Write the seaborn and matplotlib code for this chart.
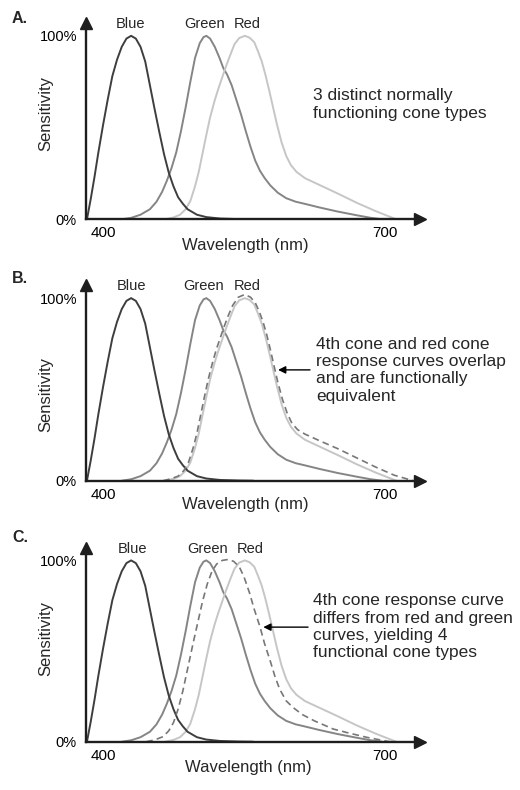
import numpy as np
import pandas as pd
import matplotlib
matplotlib.use('Agg')
import matplotlib.pyplot as plt
import seaborn as sns

# cone sensitivity curves (wavelength nm, % of peak)
blue_wl = [383, 387, 391, 395, 400, 405, 410, 415, 420, 425, 430, 435, 440, 445, 450,
           455, 460, 465, 470, 475, 480, 485, 490, 500, 510, 525, 545, 560]
blue_sens = [0, 11, 23, 36, 51, 65, 78, 87, 94, 98.5, 100, 98.5, 94, 86, 73,
             60, 47.5, 35.5, 25.5, 18, 12, 8.5, 5.5, 2.5, 1.2, 0.4, 0.1, 0]

green_wl = [420, 430, 440, 450, 457, 463, 468, 473, 478, 483, 488, 493, 498, 503, 507,
            510, 514, 519, 524, 528, 532, 537, 542, 547, 552, 557, 562, 567, 572, 578,
            586, 595, 605, 615, 630, 650, 670, 685, 697]
green_sens = [0, 0.8, 2.5, 5.5, 9.6, 15, 21, 28, 36.5, 48, 61, 75, 88, 96, 99.3,
              100, 98.5, 94, 88, 82.5, 79, 73, 65, 57, 48, 39.5, 32, 26.5, 22.5, 18.5,
              14.5, 11.5, 9.6, 8.4, 6.5, 4.2, 2.2, 0.8, 0]

red_wl = [466, 475, 482, 488, 493, 498, 502, 506, 510, 514, 519, 523, 527, 531, 535,
          540, 545, 551, 556, 561, 565, 569, 573, 577, 581, 585, 590, 595, 600, 606,
          615, 630, 650, 670, 690, 712]
red_sens = [0, 1, 2.5, 5.5, 10, 18, 26, 36, 46, 55.5, 65, 71.5, 77.5, 83.5, 89,
            95.5, 98.8, 100, 99, 96.5, 91.5, 86, 78.5, 70, 61, 52, 42, 34.5, 29.5, 25.8,
            22.4, 18.8, 14, 9, 4.5, 0]

# 4th cone, panel B (overlaps red)
cone4_b_wl = [464, 472, 480, 486, 491, 496, 500, 504, 508, 512, 517, 521, 525, 529, 533,
              538, 544, 551, 557, 562, 566, 570, 574, 578, 582, 586, 591, 596, 601, 607,
              615, 630, 650, 670, 690, 710, 730]
cone4_b_sens = [0, 1, 2.5, 5.5, 10, 18, 26, 36, 46, 55.5, 65.5, 72.5, 78.5, 84.5, 90,
                96, 100.5, 102, 100.5, 97.5, 93, 87.5, 80.5, 72, 63, 54, 44.5, 37, 31.5, 28,
                25.5, 22, 17.5, 12.5, 7.5, 3, 0]

# 4th cone, panel C (between green and red)
cone4_c_wl = [446, 455, 464, 470, 475, 480, 485, 490, 496, 501, 506, 511, 516, 521, 527,
              533, 539, 545, 550, 556, 561, 567, 572, 578, 583, 588, 595, 602, 612, 625,
              645, 660, 680, 705]
cone4_c_sens = [0, 1, 2.8, 6, 10.5, 18, 28, 40, 54.5, 66, 77.5, 87, 94, 98, 100,
                100.5, 99.5, 96.5, 91, 82, 73, 63.5, 54, 44.5, 36, 29, 22.5, 19, 15, 11.5,
                7, 5, 2.5, 0]

curve_names = ['Blue', 'Green', 'Red']
x_tick_labels = ['400', '700']
y_tick_labels = ['0%', '100%']
panel_letters = ['A.', 'B.', 'C.']
notes = ['3 distinct normally\nfunctioning cone types',
         '4th cone and red cone\nresponse curves overlap\nand are functionally\nequivalent',
         '4th cone response curve\ndiffers from red and green\ncurves, yielding 4\nfunctional cone types']

sns.set_theme(style='white')
plt.rcParams['font.family'] = ['Liberation Sans', 'DejaVu Sans']

fig = plt.figure(figsize=(5.2, 7.9), dpi=100)

boxes = [[0.1654, 0.7224, 0.6423, 0.2485],
         [0.1654, 0.3915, 0.6423, 0.2473],
         [0.1654, 0.0611, 0.6423, 0.2456]]
letter_y = [1 - 18.5 / 790, 1 - 278.5 / 790, 1 - 537.5 / 790]
name_x = [[429, 508, 554], [430, 507, 553.5], [431.5, 511, 556.5]]
ylabel_y = [0.54, 0.44, 0.533]
xlabel_pos = [(0.478, -0.131), (0.478, -0.124), (0.486, -0.132)]
note_xy = [(623.5, 62.5), (626.7, 60.5), (623.5, 63.4)]
arrows = [None, ((620.3, 60.7), (586.3, 60.7)), ((618.2, 63.2), (570.6, 63.2))]

axis_color = '#1e1e1e'

for i in range(3):
    ax = fig.add_axes(boxes[i])

    sns.lineplot(x=green_wl, y=green_sens, ax=ax, color='#858585', lw=1.4)
    sns.lineplot(x=red_wl, y=red_sens, ax=ax, color='#c6c6c6', lw=1.4)
    sns.lineplot(x=blue_wl, y=blue_sens, ax=ax, color='#3e3e3e', lw=1.4)
    if i == 1:
        sns.lineplot(x=cone4_b_wl, y=cone4_b_sens, ax=ax, color='#777777', lw=1.2,
                     linestyle=(0, (4, 2.5)))
    if i == 2:
        sns.lineplot(x=cone4_c_wl, y=cone4_c_sens, ax=ax, color='#777777', lw=1.2,
                     linestyle=(0, (4, 2.5)))

    ax.set_xlim(382, 737.3)
    ax.set_ylim(0, 107)

    for side in ['top', 'right']:
        ax.spines[side].set_visible(False)
    for side in ['left', 'bottom']:
        ax.spines[side].set_color(axis_color)
        ax.spines[side].set_linewidth(1.7)

    # arrow heads on the axes
    ax.plot(1, 0, '>', color=axis_color, ms=8, transform=ax.transAxes, clip_on=False)
    ax.plot(0, 1, '^', color=axis_color, ms=8, transform=ax.transAxes, clip_on=False)

    ax.set_xticks([400, 700], x_tick_labels)
    ax.set_yticks([0, 100], y_tick_labels)
    ax.tick_params(axis='x', length=0, labelsize=11, pad=5, colors='black')
    ax.tick_params(axis='y', length=0, labelsize=10.5, pad=6.5, colors='black')

    ax.set_xlabel('Wavelength (nm)', fontsize=12, va='center')
    ax.xaxis.set_label_coords(*xlabel_pos[i])
    ax.set_ylabel('Sensitivity', fontsize=12, va='center')
    ax.yaxis.set_label_coords(-0.12, ylabel_y[i])

    for name, nx in zip(curve_names, name_x[i]):
        ax.text(nx, 106.5, name, ha='center', va='center', fontsize=10.5)

    ax.text(note_xy[i][0], note_xy[i][1], notes[i], ha='left', va='center',
            fontsize=12.5, linespacing=1.2)

    if arrows[i] is not None:
        ax.annotate('', xy=arrows[i][1], xytext=arrows[i][0],
                    arrowprops=dict(arrowstyle='-|>', color='black', lw=1,
                                    mutation_scale=11, shrinkA=0, shrinkB=0))

    fig.text(12 / 520, letter_y[i], panel_letters[i], fontsize=11.5,
             fontweight='bold', va='center', ha='left')

fig.savefig('out.png', dpi=100)
